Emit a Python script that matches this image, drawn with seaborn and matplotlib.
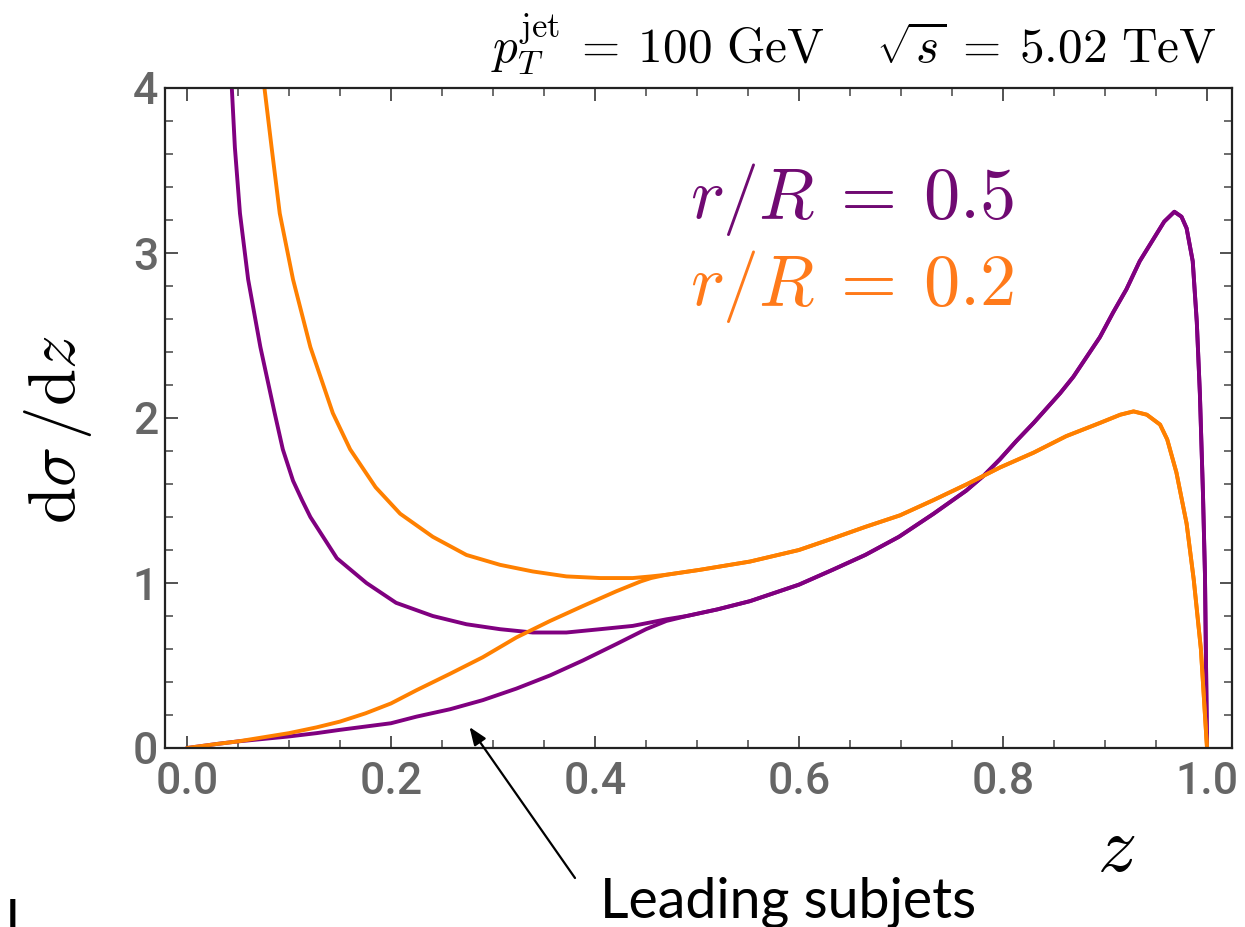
import numpy as np
import pandas as pd
import matplotlib
matplotlib.use("Agg")
import matplotlib.pyplot as plt
import seaborn as sns
from matplotlib.ticker import MultipleLocator, FormatStrFormatter

# ---------------- data ----------------
# r/R = 0.5 : all subjets (small-z branch)
z_all_05 = [0.042, 0.044, 0.047, 0.052, 0.060, 0.072, 0.086, 0.094, 0.104, 0.113,
            0.121, 0.147, 0.176, 0.205, 0.241, 0.274, 0.307, 0.339, 0.372, 0.405,
            0.437, 0.470]
y_all_05 = [4.15, 4.00, 3.64, 3.24, 2.84, 2.43, 2.03, 1.81, 1.62, 1.50,
            1.40, 1.15, 1.00, 0.88, 0.80, 0.75, 0.72, 0.70, 0.70, 0.72,
            0.74, 0.78]
# r/R = 0.5 : leading subjets (small-z branch)
z_lead_05 = [0.0, 0.030, 0.050, 0.075, 0.100, 0.127, 0.150, 0.175, 0.200, 0.225,
             0.258, 0.290, 0.323, 0.356, 0.388, 0.421, 0.450, 0.470]
y_lead_05 = [0.0, 0.025, 0.040, 0.055, 0.070, 0.090, 0.110, 0.130, 0.150, 0.190,
             0.235, 0.290, 0.360, 0.440, 0.530, 0.630, 0.720, 0.770]
# r/R = 0.5 : common part (z > 0.49)
z_tail_05 = [0.490, 0.520, 0.552, 0.600, 0.633, 0.665, 0.698, 0.732, 0.764, 0.781,
             0.797, 0.813, 0.830, 0.843, 0.856, 0.869, 0.882, 0.895, 0.908, 0.921,
             0.934, 0.947, 0.958, 0.968, 0.975, 0.980, 0.986, 0.990, 0.993, 0.996,
             0.998, 1.000]
y_tail_05 = [0.80, 0.84, 0.89, 0.99, 1.08, 1.17, 1.28, 1.42, 1.56, 1.65,
             1.75, 1.86, 1.97, 2.06, 2.15, 2.25, 2.37, 2.49, 2.64, 2.78,
             2.95, 3.08, 3.19, 3.25, 3.22, 3.15, 2.95, 2.58, 2.15, 1.55,
             1.05, 0.0]

# r/R = 0.2 : all subjets (small-z branch)
z_all_02 = [0.074, 0.076, 0.083, 0.091, 0.104, 0.121, 0.143, 0.160, 0.185, 0.209,
            0.241, 0.274, 0.307, 0.339, 0.372, 0.405, 0.437, 0.455]
y_all_02 = [4.15, 4.00, 3.64, 3.24, 2.84, 2.43, 2.03, 1.81, 1.58, 1.42,
            1.28, 1.17, 1.11, 1.07, 1.04, 1.03, 1.03, 1.04]
# r/R = 0.2 : leading subjets (small-z branch)
z_lead_02 = [0.0, 0.030, 0.050, 0.075, 0.100, 0.127, 0.150, 0.175, 0.200, 0.225,
             0.258, 0.290, 0.323, 0.356, 0.388, 0.421, 0.445, 0.455]
y_lead_02 = [0.0, 0.025, 0.040, 0.065, 0.090, 0.125, 0.160, 0.210, 0.270, 0.350,
             0.450, 0.550, 0.670, 0.770, 0.860, 0.950, 1.010, 1.030]
# r/R = 0.2 : common part
z_tail_02 = [0.470, 0.503, 0.552, 0.600, 0.633, 0.665, 0.699, 0.731, 0.765, 0.797,
             0.830, 0.862, 0.895, 0.915, 0.928, 0.941, 0.954, 0.961, 0.970, 0.980,
             0.987, 0.994, 1.000]
y_tail_02 = [1.05, 1.08, 1.13, 1.20, 1.27, 1.34, 1.41, 1.50, 1.60, 1.70,
             1.79, 1.89, 1.97, 2.02, 2.04, 2.02, 1.96, 1.87, 1.67, 1.36,
             1.02, 0.60, 0.0]

x_ticks = [0.0, 0.2, 0.4, 0.6, 0.8, 1.0]
y_ticks = [0, 1, 2, 3, 4]

PURPLE = "#800080"
ORANGE = "#ff8000"
PURPLE_TXT = "#700a72"
ORANGE_TXT = "#ff7a1a"

# ---------------- style ----------------
sns.set_theme(style="ticks")
plt.rcParams["font.family"] = ["Liberation Sans", "DejaVu Sans"]
plt.rcParams["mathtext.fontset"] = "cm"

W, H = 1245, 927
fig = plt.figure(figsize=(W / 100, H / 100), dpi=100)
ax = fig.add_axes([165 / W, (H - 748) / H, (1232 - 165) / W, (748 - 88) / H])

curves = [
    (z_all_05 + z_tail_05, y_all_05 + y_tail_05, PURPLE),
    (z_lead_05 + z_tail_05, y_lead_05 + y_tail_05, PURPLE),
    (z_all_02 + z_tail_02, y_all_02 + y_tail_02, ORANGE),
    (z_lead_02 + z_tail_02, y_lead_02 + y_tail_02, ORANGE),
]
for zz, yy, col in curves:
    df = pd.DataFrame({"z": zz, "dsdz": yy})
    sns.lineplot(data=df, x="z", y="dsdz", ax=ax, color=col, lw=2.8,
                 sort=False, estimator=None, legend=False)

ax.set_xlim(-0.0215, 1.0245)
ax.set_ylim(0, 4)
ax.set_xticks(x_ticks)
ax.set_yticks(y_ticks)
ax.xaxis.set_minor_locator(MultipleLocator(0.05))
ax.yaxis.set_minor_locator(MultipleLocator(0.2))
ax.xaxis.set_major_formatter(FormatStrFormatter("%.1f"))
ax.yaxis.set_major_formatter(FormatStrFormatter("%d"))
ax.tick_params(which="both", direction="in", top=True, right=True,
               color="#444444", labelcolor="#666666", labelsize=32)
ax.tick_params(which="major", length=9, width=1.3)
ax.tick_params(which="minor", length=5.5, width=1.1)
ax.tick_params(axis="x", which="major", pad=9)
ax.tick_params(axis="y", which="major", pad=5)
for lab in ax.get_xticklabels() + ax.get_yticklabels():
    lab.set_fontfamily(["Roboto", "Liberation Sans", "DejaVu Sans"])
    lab.set_fontweight("medium")
for s in ax.spines.values():
    s.set_linewidth(1.6)
    s.set_color("#222222")

ax.set_ylabel(r"$\mathrm{d}\sigma\,/\mathrm{d}z$", fontsize=48, color="black", va="center")
ax.yaxis.set_label_coords((58 - 165) / (1232 - 165), (748 - 430) / (748 - 88))
ax.set_xlabel(r"$z$", fontsize=56, color="black", va="center")
ax.xaxis.set_label_coords((1116 - 165) / (1232 - 165), (748 - 851) / (748 - 88))

# texts
fig.text(1217 / W, (H - 62) / H,
         r"$p_T^{\rm jet}\:=\:100\ {\rm GeV}\quad\:\sqrt{s}\:=\:5.02\ {\rm TeV}$",
         fontsize=35.5, ha="right", va="baseline", color="black")
fig.text(690 / W, (H - 218) / H, r"$r/R\:=\:0.5$", fontsize=52, color=PURPLE_TXT,
         ha="left", va="baseline")
fig.text(690 / W, (H - 305) / H, r"$r/R\:=\:0.2$", fontsize=52, color=ORANGE_TXT,
         ha="left", va="baseline")

ax.annotate("", xy=(0.277, 0.127), xycoords="data",
            xytext=(575 / W, (H - 878) / H), textcoords="figure fraction",
            arrowprops=dict(arrowstyle="-|>,head_length=0.9,head_width=0.35",
                            color="black", lw=1.6, shrinkA=0, shrinkB=0),
            annotation_clip=False)
fig.text(600 / W, (H - 917) / H, "Leading subjets", fontfamily=["Lato", "DejaVu Sans"],
         fontsize=40, ha="left", va="baseline", color="black")
fig.text(6 / W, (H - 940) / H, "l", fontfamily=["Lato", "DejaVu Sans"],
         fontsize=41, ha="left", va="baseline", color="black")

fig.savefig("out.png", dpi=100)
